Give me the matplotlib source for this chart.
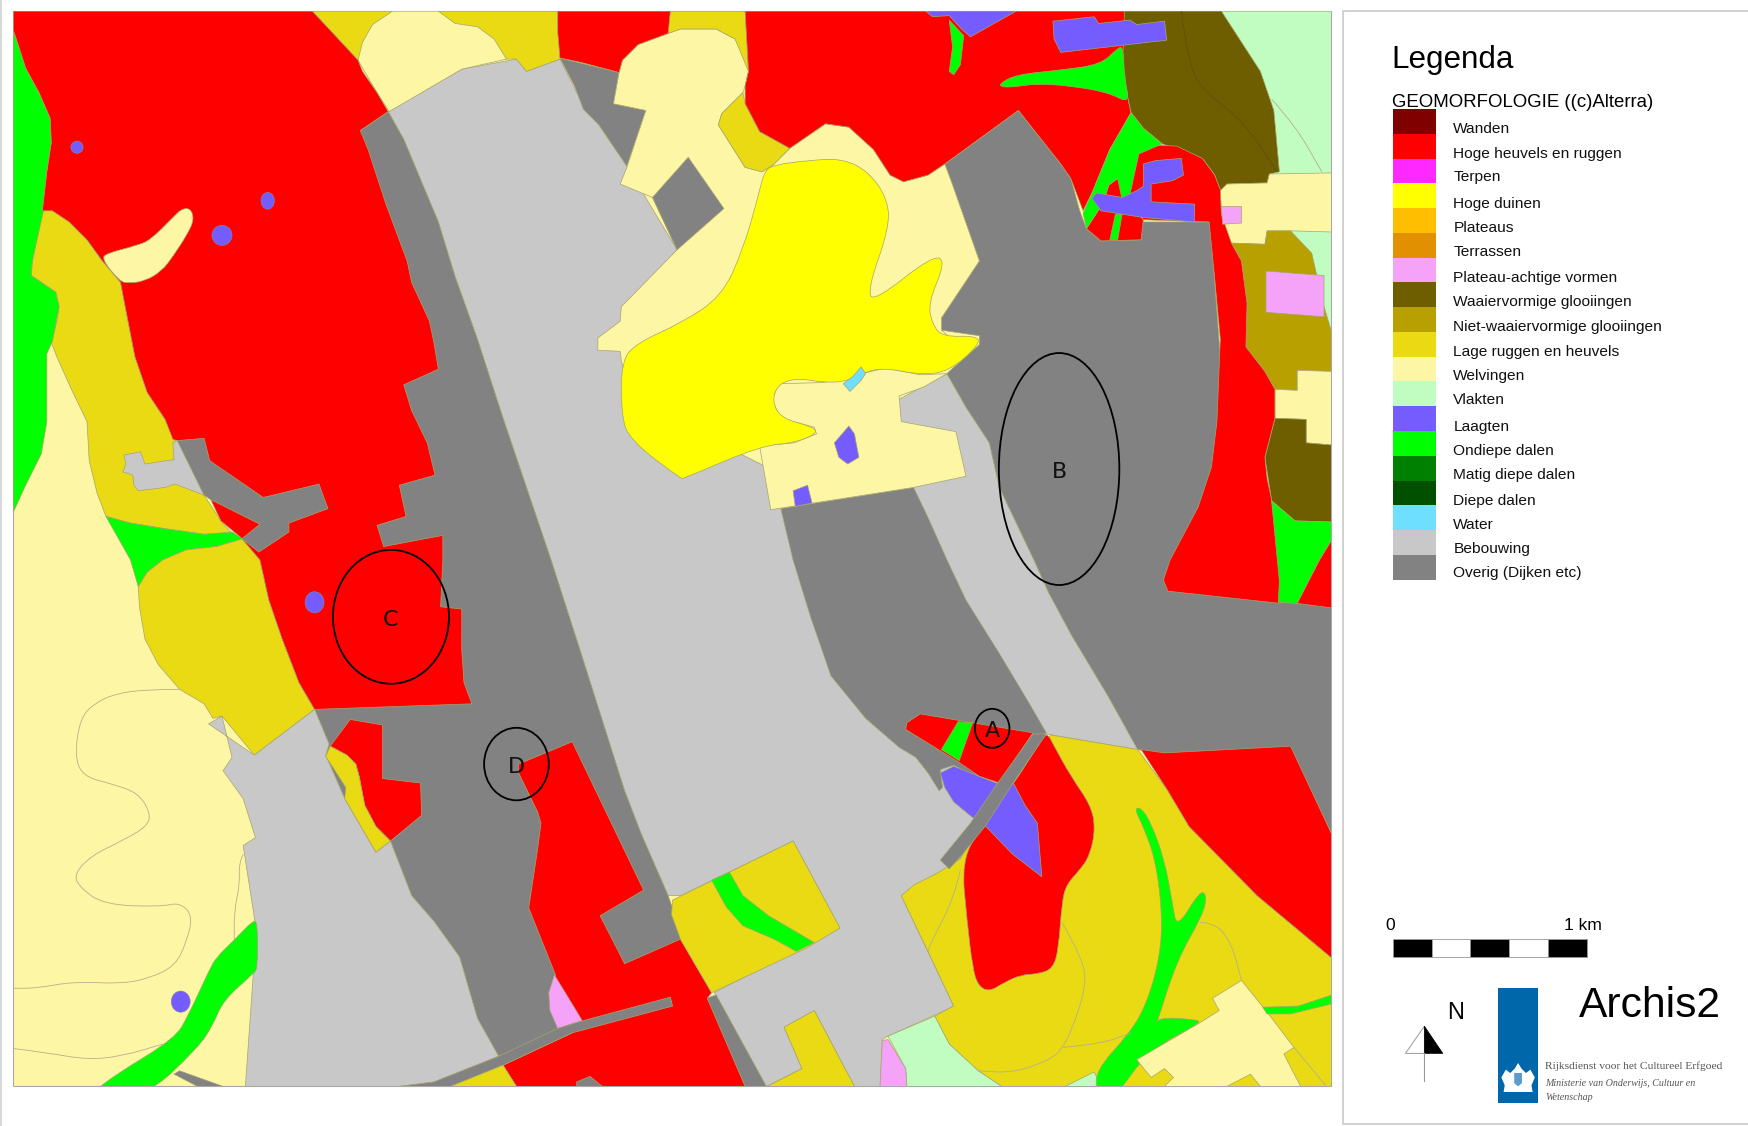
import matplotlib
matplotlib.use('Agg')
import matplotlib.pyplot as plt
from matplotlib.patches import Polygon, Rectangle, Ellipse, PathPatch
from matplotlib.path import Path

# colours, same order as the legend
legend_labels = ['Wanden', 'Hoge heuvels en ruggen', 'Terpen', 'Hoge duinen', 'Plateaus', 'Terrassen',
                 'Plateau-achtige vormen', 'Waaiervormige glooiingen', 'Niet-waaiervormige glooiingen',
                 'Lage ruggen en heuvels', 'Welvingen', 'Vlakten', 'Laagten', 'Ondiepe dalen',
                 'Matig diepe dalen', 'Diepe dalen', 'Water', 'Bebouwing', 'Overig (Dijken etc)']
legend_colors = ['#800000', '#ff0000', '#ff28ff', '#ffff00', '#ffbe00', '#e09000', '#f5a3f8', '#6e5e00',
                 '#b8a000', '#e9da14', '#fdf6a5', '#c1fdc1', '#745cff', '#00ff00', '#008000', '#005000',
                 '#6fdfff', '#c8c8c8', '#828282']
legend_label_y = [116, 138, 159, 183, 204, 226, 249, 271, 293, 316, 337, 359, 383, 404, 426, 449, 471, 492, 514]

RED, YELLOW, PINK, WAAI, NIET, LAGE, WELV, VLAK, LAAG, OND, WATER, BEB, OVER = (
    legend_colors[1], legend_colors[3], legend_colors[6], legend_colors[7], legend_colors[8], legend_colors[9],
    legend_colors[10], legend_colors[11], legend_colors[12], legend_colors[13], legend_colors[16],
    legend_colors[17], legend_colors[18])

# map units
beb_central = [(348, 100), (414, 62), (463, 53), (472, 64), (502, 53), (517, 83), (562, 149), (607, 224), (560, 300),
               (610, 380), (690, 420), (849, 335), (866, 365), (887, 397), (896, 437), (927, 502), (940, 531),
               (961, 570), (994, 625), (1020, 672), (938, 658), (900, 710), (861, 769), (851, 779), (840, 783),
               (808, 803), (855, 902), (836, 911), (796, 929), (791, 932), (789, 974), (766, 974), (730, 906),
               (703, 921), (719, 958), (687, 974), (642, 892), (640, 890), (753, 832), (711, 754), (610, 803),
               (599, 803), (575, 748), (560, 709), (521, 586), (494, 502), (451, 375), (428, 304), (408, 248),
               (393, 199), (362, 125)]
over_west = [(348, 100), (362, 125), (393, 199), (408, 248), (428, 304), (451, 375), (494, 502), (521, 586),
             (560, 709), (575, 748), (599, 803), (612, 840), (600, 900), (500, 925), (447, 947), (428, 913),
             (412, 858), (389, 826), (369, 803), (350, 754), (337, 764), (309, 716), (292, 677), (295, 667),
             (282, 636), (300, 400), (323, 117)]
over_east = [(913, 99), (847, 147), (853, 163), (878, 234), (844, 285), (844, 296), (878, 301), (878, 309), (851, 333),
             (849, 335), (866, 365), (887, 397), (896, 437), (927, 502), (940, 531), (961, 570), (994, 625),
             (1020, 672), (1044, 677), (1157, 671), (1194, 748), (1194, 545), (1100, 400), (1085, 199), (1023, 199),
             (1023, 215), (987, 216), (974, 205), (968, 189), (960, 160), (951, 147)]
over_center = [(700, 456), (819, 437), (832, 464), (849, 502), (866, 538), (896, 586), (923, 631), (938, 657),
               (874, 696), (855, 686), (843, 690), (845, 706), (842, 709), (832, 693), (821, 679), (806, 670),
               (776, 644), (745, 606), (727, 554), (711, 502)]
over_north = [(502, 52), (555, 65), (550, 93), (579, 99), (562, 149), (537, 112), (523, 98), (515, 77)]
over_diamond = [(585, 177), (617, 141), (649, 187), (607, 224)]
over_bar_west = [(159, 395), (183, 393), (188, 413), (236, 446), (286, 434), (294, 456), (259, 469), (259, 477),
                 (232, 495), (217, 483), (233, 470), (189, 448), (183, 444)]
over_road = [(447, 947), (500, 922), (523, 915), (601, 894), (603, 902), (513, 926), (451, 955), (404, 974),
             (358, 974), (389, 970)]
over_stub = [(517, 970), (529, 965), (540, 974), (517, 974)]
over_sw = [(156, 963), (161, 960), (200, 974), (177, 974)]
over_south = [(633, 895), (642, 892), (687, 974), (668, 974)]
over_dike = [(926, 658), (938, 658), (909, 701), (883, 741), (862, 767), (851, 779), (843, 771), (870, 738), (893, 704)]

beb_sw = [(187, 649), (199, 642), (208, 679), (200, 691), (218, 716), (229, 751), (218, 758), (229, 829), (230, 868),
          (227, 874), (220, 974), (358, 974), (389, 970), (447, 947), (428, 913), (412, 858), (389, 826), (369, 803),
          (350, 754), (337, 764), (309, 716), (292, 677), (295, 667), (282, 636), (228, 677)]
beb_small = [(155, 397), (159, 395), (183, 444), (157, 434), (148, 437), (124, 440), (120, 435), (119, 426), (110, 423),
             (113, 416), (111, 408), (126, 405), (130, 416), (156, 412)]

vlak_ne = [(1095, 10), (1194, 10), (1194, 300), (1140, 200), (1140, 150)]
vlak_s = [(796, 929), (838, 911), (851, 936), (877, 960), (898, 974), (813, 974), (812, 958)]
vlak_small = [(955, 974), (981, 961), (987, 974)]

green_west = [(12, 27), (23, 61), (35, 83), (45, 106), (46, 128), (42, 154), (39, 189), (29, 234), (28, 247), (50, 262),
              (53, 275), (47, 306), (42, 317), (42, 378), (37, 407), (23, 435), (12, 459)]
green_mid = [(95, 463), (117, 469), (148, 474), (183, 479), (208, 477), (218, 483), (194, 490), (167, 493), (146, 502),
             (132, 513), (124, 526), (117, 502)]
green_sw = [(226, 826), (231, 826), (231, 868), (227, 873), (200, 897), (191, 919), (177, 940), (130, 984), (78, 984), (101, 965),
            (157, 931), (169, 910), (187, 871), (194, 858), (210, 843)]
green_block = [(638, 789), (654, 782), (666, 803), (689, 821), (730, 845), (714, 853), (694, 842), (666, 830), (651, 813)]
green_a = [(859, 647), (872, 648), (860, 682), (844, 672)]
green_east = [(1140, 449), (1161, 467), (1194, 468), (1194, 484), (1183, 502), (1163, 541), (1146, 540), (1147, 521)]
green_n1 = [(851, 18), (864, 32), (861, 58), (855, 67), (851, 64), (854, 42)]
green_n2 = [(896, 75), (911, 67), (949, 63), (987, 58), (1002, 43), (1007, 42), (1008, 70), (1013, 93), (994, 83),
            (960, 77), (930, 75), (908, 78), (898, 78)]
green_ne = [(1014, 101), (1025, 115), (1042, 129), (1021, 138), (1012, 179), (1006, 179), (1002, 160), (994, 166),
            (989, 182), (974, 205), (971, 191), (979, 173), (995, 134)]
green_strip = [(1000, 192), (1006, 192), (1002, 215), (995, 215)]
green_stream = [(1017, 725), (1023, 724), (1032, 738), (1044, 771), (1051, 809), (1055, 833), (1076, 798), (1082, 803),
                (1078, 821), (1055, 861), (1036, 921), (1038, 912), (1072, 914), (1077, 917), (1029, 942), (1000, 984),
                (985, 984), (981, 961), (1013, 926), (1028, 900), (1040, 858), (1042, 819), (1036, 771), (1025, 741)]
green_se = [(1132, 903), (1164, 902), (1194, 892), (1194, 900), (1157, 909), (1136, 909)]

lage_west = [(38, 189), (47, 189), (62, 199), (78, 215), (91, 233), (108, 253), (113, 279), (121, 320), (132, 352),
             (148, 376), (157, 395), (183, 444), (198, 467), (208, 478), (183, 479), (148, 474), (117, 469), (95, 463),
             (87, 442), (80, 413), (78, 378), (64, 349), (51, 320), (46, 307), (51, 288), (53, 275), (50, 262),
             (28, 247), (29, 234)]
lage_mid = [(146, 502), (167, 493), (194, 490), (218, 483), (233, 502), (241, 538), (253, 573), (268, 612), (282, 636),
            (228, 677), (199, 642), (191, 644), (183, 631), (161, 618), (142, 596), (130, 573), (125, 544), (124, 526),
            (132, 513)]
lage_top = [(280, 10), (500, 10), (502, 53), (472, 64), (463, 53), (454, 53), (321, 54)]
lage_top2 = [(599, 10), (668, 10), (671, 64), (659, 35), (642, 26), (610, 26), (599, 30)]
lage_notch = [(666, 83), (668, 93), (681, 118), (708, 133), (693, 148), (683, 154), (668, 150), (644, 112), (647, 102)]
lage_strip = [(296, 669), (311, 677), (319, 685), (322, 696), (327, 722), (337, 741), (350, 754), (337, 764), (309, 716),
              (310, 706), (292, 678)]
lage_road = [(404, 974), (451, 955), (463, 974)]
lage_block = [(603, 807), (711, 754), (753, 832), (723, 850), (638, 890), (610, 842), (602, 820)]
lage_se = [(942, 659), (1020, 672), (1047, 709), (1066, 741), (1127, 803), (1194, 859), (1194, 974), (898, 974),
           (877, 960), (851, 936), (838, 911), (855, 902), (832, 853), (808, 803), (820, 793), (840, 783), (861, 770),
           (880, 735)]
lage_small = [(688, 974), (719, 958), (703, 921), (730, 906), (766, 974)]

red_west = [(12, 10), (280, 10), (295, 26), (321, 54), (325, 64), (338, 83), (348, 100), (323, 117), (330, 134),
            (346, 183), (365, 234), (369, 253), (385, 288), (389, 307), (393, 331), (362, 345), (369, 368), (383, 397),
            (390, 426), (358, 435), (364, 463), (338, 471), (344, 490), (397, 480), (397, 502), (395, 544), (414, 546),
            (414, 583), (416, 612), (423, 631), (282, 636), (268, 612), (253, 573), (241, 538), (233, 502), (216, 482),
            (198, 467), (189, 448), (183, 442), (159, 395), (155, 394), (148, 376), (132, 352), (121, 320), (113, 279),
            (108, 253), (91, 233), (78, 215), (62, 199), (47, 189), (38, 189), (42, 154), (46, 128), (45, 106),
            (35, 83), (23, 61), (12, 27)]
red_d_block = [(314, 645), (343, 650), (343, 698), (377, 702), (378, 731), (350, 754), (337, 741), (327, 722), (322, 696),
               (319, 685), (311, 677), (296, 669)]
red_south = [(465, 685), (513, 665), (577, 798), (538, 821), (560, 864), (610, 842), (638, 890), (634, 895), (668, 974),
             (463, 974), (451, 955), (513, 926), (500, 921), (492, 890), (498, 874), (474, 814), (482, 761), (485, 738),
             (482, 728), (465, 693)]
red_center = [(940, 659), (944, 667), (960, 696), (978, 722), (982, 743), (977, 767), (968, 780), (956, 793), (952, 809),
              (949, 851), (944, 868), (932, 873), (915, 874), (900, 881), (887, 889), (877, 884), (872, 868), (867, 826),
              (862, 771), (881, 740), (909, 703), (936, 659)]
red_a = [(825, 640), (872, 648), (926, 657), (896, 702), (878, 696), (859, 683), (812, 654), (813, 648)]
red_se = [(1023, 672), (1044, 675), (1157, 669), (1194, 748), (1194, 859), (1127, 803), (1066, 741), (1047, 709)]
red_north = [(668, 10), (1010, 10), (1006, 64), (1014, 101), (995, 134), (979, 173), (971, 189), (960, 160), (951, 147),
             (913, 99), (847, 147), (832, 157), (810, 163), (798, 157), (783, 134), (761, 114), (740, 111), (708, 133),
             (681, 118), (668, 93), (668, 77), (671, 64)]
red_north2 = [(500, 10), (601, 10), (599, 30), (572, 40), (558, 54), (555, 65), (521, 56), (502, 52), (500, 29)]
red_east = [(1014, 154), (1019, 138), (1036, 130), (1055, 131), (1078, 142), (1089, 157), (1094, 170), (1095, 192),
            (1104, 218), (1113, 234), (1118, 272), (1117, 311), (1134, 333), (1143, 349), (1143, 375), (1134, 410),
            (1136, 429), (1140, 448), (1145, 480), (1147, 502), (1148, 541), (1047, 530), (1043, 520), (1047, 508),
            (1049, 502), (1074, 455), (1086, 419), (1091, 378), (1094, 304), (1089, 250), (1084, 199), (1025, 197),
            (1010, 179)]
red_tip = [(1194, 484), (1183, 502), (1163, 541), (1194, 545)]
red_bits = [(974, 205), (987, 216), (1023, 215), (1025, 197), (1010, 179), (1002, 160), (994, 166), (989, 182)]

welv_top = [(352, 10), (393, 10), (408, 21), (428, 24), (443, 35), (454, 53), (414, 62), (349, 100), (338, 83), (321, 54),
            (325, 38), (334, 22)]
welv_central = [(555, 65), (558, 54), (572, 40), (599, 30), (610, 26), (642, 26), (659, 35), (671, 53), (671, 64), (668, 77),
                (666, 83), (647, 102), (644, 112), (668, 150), (683, 154), (693, 148), (708, 133), (740, 111), (761, 114),
                (783, 134), (798, 157), (810, 163), (832, 157), (847, 147), (853, 163), (878, 234), (844, 285), (844, 296),
                (860, 310), (800, 320), (620, 400), (570, 380), (557, 323), (556, 315), (536, 314), (536, 303), (556, 288),
                (557, 275), (607, 224), (585, 177), (556, 165), (562, 150), (579, 99), (550, 93)]
welv_block = [(681, 400), (691, 457), (819, 437), (866, 427), (857, 387), (808, 378), (806, 355), (828, 347), (849, 335),
              (825, 336), (794, 330), (738, 343), (698, 344), (692, 359), (700, 375), (730, 383), (732, 389), (712, 397)]
welv_e1 = [(1138, 156), (1194, 155), (1194, 208), (1159, 207), (1136, 207), (1134, 219), (1104, 218), (1098, 205),
           (1095, 192), (1094, 171), (1100, 165), (1136, 164)]
welv_e2 = [(1143, 349), (1163, 350), (1163, 332), (1194, 333), (1194, 399), (1171, 397), (1171, 376), (1143, 375)]
welv_blob = [(91, 232), (96, 227), (123, 220), (135, 215), (155, 195), (163, 187), (171, 187), (174, 197), (168, 210),
             (155, 230), (145, 243), (130, 252), (115, 254), (107, 252)]
welv_se = [(1113, 879), (1138, 910), (1160, 939), (1151, 945), (1166, 974), (1130, 974), (1121, 963), (1100, 974), (1044, 974),
           (1052, 966), (1044, 958), (1032, 966), (1019, 950), (1074, 918), (1093, 906), (1087, 895)]

yellow_dune = [(693, 148), (723, 144), (755, 142), (779, 154), (796, 179), (797, 205), (778, 259), (783, 271), (836, 229),
               (848, 234), (832, 272), (836, 291), (845, 302), (876, 301), (878, 309), (851, 333), (825, 336), (794, 330),
               (776, 333), (759, 342), (738, 343), (715, 339), (698, 344), (692, 359), (700, 375), (730, 383), (732, 389),
               (712, 397), (681, 400), (613, 429), (610, 429), (564, 394), (557, 371), (557, 323), (572, 307), (610, 290),
               (647, 266), (666, 224), (679, 179), (685, 154)]

waai_ne = [(1008, 10), (1095, 10), (1130, 64), (1142, 99), (1147, 154), (1138, 156), (1136, 164), (1100, 165), (1094, 171),
           (1089, 157), (1078, 142), (1042, 129), (1025, 115), (1014, 101), (1006, 64), (1007, 42)]
waai_e = [(1143, 375), (1171, 376), (1171, 397), (1194, 399), (1194, 468), (1161, 467), (1140, 449), (1134, 410)]
niet_e = [(1104, 218), (1134, 219), (1136, 207), (1157, 207), (1176, 227), (1187, 275), (1194, 298), (1194, 333), (1163, 332),
          (1163, 350), (1143, 349), (1134, 333), (1117, 311), (1118, 272), (1113, 234)]
pink_e = [(1135, 243), (1187, 247), (1187, 284), (1135, 280)]
pink_small = [(1095, 185), (1113, 185), (1113, 200), (1096, 201)]
pink_sw = [(497, 874), (492, 890), (493, 906), (500, 922), (522, 915), (505, 887)]
pink_s = [(791, 933), (796, 932), (812, 958), (813, 974), (789, 974)]

laag_n = [(830, 10), (911, 10), (870, 33), (862, 26), (851, 14), (836, 15)]
laag_rect = [(944, 19), (981, 15), (985, 21), (1013, 18), (1019, 22), (1044, 19), (1046, 36), (951, 47), (945, 35)]
laag_f = [(1025, 147), (1036, 144), (1059, 142), (1061, 157), (1051, 162), (1032, 165), (1032, 181), (1071, 183), (1071, 199),
          (1025, 195), (987, 189), (979, 178), (983, 173), (1006, 177), (1019, 171), (1025, 167)]
laag_center = [(855, 687), (878, 696), (893, 702), (909, 703), (919, 722), (930, 738), (934, 786), (908, 766), (883, 740),
               (872, 733), (855, 719), (847, 706), (843, 693)]
laag_pool1 = [(761, 382), (766, 389), (770, 410), (760, 416), (752, 410), (748, 397)]
laag_pool2 = [(711, 440), (724, 435), (728, 451), (713, 454)]
water_pool = [(772, 329), (776, 335), (772, 341), (762, 351), (756, 344), (764, 338)]

# small round ponds: centre x, centre y, width, height
pond_x = [69, 199, 240, 282, 162]
pond_y = [132, 211, 180, 540, 898]
pond_w = [11, 18, 12, 17, 17]
pond_h = [11, 18, 15, 19, 19]

# thin height lines inside the areas
contour_sw1 = [(161, 618), (132, 618), (103, 622), (84, 631), (72, 644), (67, 677), (74, 696), (101, 703), (124, 711), (135, 729),
               (132, 741), (109, 754), (82, 767), (66, 784), (72, 796), (93, 811), (144, 813), (161, 809), (173, 821),
               (167, 845), (157, 866), (134, 877), (109, 882), (66, 880), (33, 886), (12, 886)]
contour_sw2 = [(12, 940), (43, 944), (78, 950), (109, 947), (146, 936)]
contour_sw3 = [(218, 766), (214, 774), (215, 793), (210, 816), (210, 843)]
contour_se1 = [(861, 780), (855, 806), (836, 842), (832, 853)]
contour_se2 = [(952, 827), (972, 861), (973, 887), (961, 923), (953, 939), (942, 950), (908, 962), (877, 960)]
contour_se3 = [(953, 939), (987, 936), (1014, 926)]
contour_se4 = [(1076, 827), (1089, 827), (1104, 845), (1113, 879)]
contour_se5 = [(1160, 939), (1176, 958), (1189, 974)]
contour_vlak = [(1140, 89), (1161, 112), (1185, 154)]
contour_waai = [(1059, 10), (1066, 61), (1081, 83), (1115, 109), (1145, 154)]

# marked spots
spot_labels = ['A', 'B', 'C', 'D']
spot_x = [889.5, 949.5, 350.5, 463]
spot_y = [653, 420.5, 553, 685]
spot_w = [31, 108, 104, 58]
spot_h = [35, 208, 120, 65]

# order is the stacking order, later on top
layers = [
    (vlak_ne, VLAK), (beb_central, BEB), (over_west, OVER), (over_east, OVER), (over_center, OVER), (over_north, OVER),
    (over_south, OVER), (lage_top, LAGE), (welv_top, WELV), (welv_central, WELV), (over_diamond, OVER), (lage_top2, LAGE),
    (lage_notch, LAGE), (welv_block, WELV), (yellow_dune, YELLOW), (lage_west, LAGE), (green_west, OND), (green_mid, OND),
    (lage_mid, LAGE), (beb_sw, BEB), (red_west, RED), (beb_small, BEB), (over_bar_west, OVER), (red_d_block, RED),
    (lage_strip, LAGE), (red_south, RED), (pink_sw, PINK), (over_road, OVER), (over_stub, OVER), (over_sw, OVER),
    (lage_road, LAGE), (green_sw, OND), (lage_block, LAGE), (green_block, OND), (lage_se, LAGE), (vlak_s, VLAK),
    (vlak_small, VLAK), (pink_s, PINK), (lage_small, LAGE), (red_se, RED), (red_center, RED), (red_a, RED), (green_a, OND),
    (laag_center, LAAG), (over_dike, OVER), (green_stream, OND), (welv_se, WELV), (green_se, OND), (red_north, RED),
    (red_north2, RED), (waai_ne, WAAI), (welv_e1, WELV), (niet_e, NIET), (welv_e2, WELV), (waai_e, WAAI), (red_bits, RED),
    (red_east, RED), (green_east, OND), (red_tip, RED), (green_n1, OND), (green_n2, OND), (green_ne, OND), (green_strip, OND),
    (pink_e, PINK), (pink_small, PINK), (welv_blob, WELV), (laag_n, LAAG), (laag_rect, LAAG), (laag_f, LAAG),
    (laag_pool1, LAAG), (laag_pool2, LAAG), (water_pool, WATER),
]
contours = [contour_sw1, contour_sw2, contour_sw3, contour_se1, contour_se2, contour_se3, contour_se4, contour_se5, contour_vlak]
# organic outlines, drawn as curves with the read points as control points
soft_shapes = [yellow_dune, welv_blob, red_center, green_stream, green_sw, green_n2]


def soft_path(points, closed):
    # quadratic curves through the edge midpoints
    verts, codes = [], []
    mid = lambda a, b: ((a[0] + b[0]) / 2, (a[1] + b[1]) / 2)
    if closed:
        verts.append(mid(points[-1], points[0]))
        codes.append(Path.MOVETO)
        for i, v in enumerate(points):
            verts += [v, mid(v, points[(i + 1) % len(points)])]
            codes += [Path.CURVE3, Path.CURVE3]
    else:
        verts.append(points[0])
        codes.append(Path.MOVETO)
        for i in range(1, len(points) - 1):
            verts += [points[i], mid(points[i], points[i + 1])]
            codes += [Path.CURVE3, Path.CURVE3]
        verts.append(points[-1])
        codes.append(Path.LINETO)
    return Path(verts, codes)


plt.rcParams['font.family'] = ['Liberation Sans', 'DejaVu Sans']

fig = plt.figure(figsize=(17.49, 11.26), dpi=100)
ax = fig.add_axes([0, 0, 1, 1])
ax.set_xlim(0, 1568)
ax.set_ylim(1009.5, 0)
ax.axis('off')

frame = Rectangle((12, 10), 1181.3, 964, facecolor=WELV, edgecolor='#a8a8a8', lw=0.8, zorder=1)
ax.add_patch(frame)
clip = Rectangle((12, 10), 1181.3, 964, transform=ax.transData)

for points, color in layers:
    if any(points is s for s in soft_shapes):
        p = PathPatch(soft_path(points, True), facecolor=color, edgecolor='#a5a56e', lw=0.5, zorder=2)
    else:
        p = Polygon(points, closed=True, facecolor=color, edgecolor='#a5a56e', lw=0.5, joinstyle='round', zorder=2)
    ax.add_patch(p)
    p.set_clip_path(clip)

for x, y, w, h in zip(pond_x, pond_y, pond_w, pond_h):
    ax.add_patch(Ellipse((x, y), w, h, facecolor=LAAG, edgecolor='#8a8aa0', lw=0.4, zorder=3))

for line in contours:
    ax.add_patch(PathPatch(soft_path(line, False), fill=False, edgecolor='#b5b08a', lw=0.6, zorder=3))
ax.add_patch(PathPatch(soft_path(contour_waai, False), fill=False, edgecolor='#5a4e10', lw=0.5, zorder=3))

for name, x, y, w, h in zip(spot_labels, spot_x, spot_y, spot_w, spot_h):
    ax.add_patch(Ellipse((x, y), w, h, fill=False, edgecolor='black', lw=1.3, zorder=4))
    ax.text(x, y + 2.5, name, ha='center', va='center', fontsize=16, family='DejaVu Sans', color='#111111', zorder=5)

# legend panel
ax.plot([1568, 1204, 1204, 1568], [9.6, 9.6, 1007.7, 1007.7], color='#c8c8c8', lw=1.2, zorder=1)
ax.plot([0.7, 0.7], [0, 1009.5], color='#d8d8d8', lw=1.5, zorder=1)
ax.text(1247, 53.5, 'Legenda', fontsize=22.6, va='center', ha='left')
ax.text(1247.5, 92, 'GEOMORFOLOGIE ((c)Alterra)', fontsize=13.4, va='center', ha='left')
for i, (lab, col, ly) in enumerate(zip(legend_labels, legend_colors, legend_label_y)):
    ax.add_patch(Rectangle((1248.5, 97.8 + i * 22.2), 39, 22.2, facecolor=col, edgecolor='none', zorder=2))
    ax.text(1303, ly, lab, fontsize=11.15, va='center', ha='left', color='#111111')

# scale bar
for i in range(5):
    ax.add_patch(Rectangle((1248.5 + i * 34.9, 842), 34.9, 16, facecolor='black' if i % 2 == 0 else 'white',
                           edgecolor='#999999', lw=0.6, zorder=2))
ax.text(1246.5, 830, '0', fontsize=12.6, ha='center', va='center')
ax.text(1419, 830, '1 km', fontsize=12.6, ha='center', va='center')

# north arrow
ax.add_patch(Polygon([(1277, 920), (1260, 944.4), (1277, 944.4)], facecolor='white', edgecolor='#999999', lw=0.7, zorder=2))
ax.add_patch(Polygon([(1277, 920), (1293.5, 944.4), (1277, 944.4)], facecolor='black', edgecolor='black', lw=0.5, zorder=2))
ax.plot([1277, 1277], [944.4, 969], color='#999999', lw=0.8, zorder=2)
ax.text(1305, 908.5, 'N', fontsize=17, ha='center', va='center')

# logo with a rough crest
ax.add_patch(Rectangle((1343.4, 886), 35, 102.5, facecolor='#0068aa', edgecolor='none', zorder=2))
ax.add_patch(Polygon([(1346, 966), (1350, 959), (1354, 962), (1358, 958), (1361, 953), (1364, 958), (1368, 962), (1372, 959),
                      (1376, 966), (1373, 973), (1374, 979), (1348, 979), (1349, 973)], facecolor='white', edgecolor='none', zorder=3))
ax.add_patch(Polygon([(1357.5, 962), (1364.5, 962), (1364.5, 971), (1361, 974), (1357.5, 971)], facecolor='#5a9ccc', edgecolor='none', zorder=4))
ax.text(1415.5, 901.5, 'Archis2', fontsize=30.7, ha='left', va='center')
ax.text(1385, 956, 'Rijksdienst voor het Cultureel Erfgoed', fontsize=8.25, family='Liberation Serif',
        color='#555555', va='center')
ax.text(1385, 971, 'Ministerie van Onderwijs, Cultuur en', fontsize=7.2, family='Liberation Serif',
        style='italic', color='#555555', va='center')
ax.text(1385, 984, 'Wetenschap', fontsize=7.2, family='Liberation Serif', style='italic', color='#555555', va='center')

fig.savefig('out.png', dpi=100, facecolor='white')
